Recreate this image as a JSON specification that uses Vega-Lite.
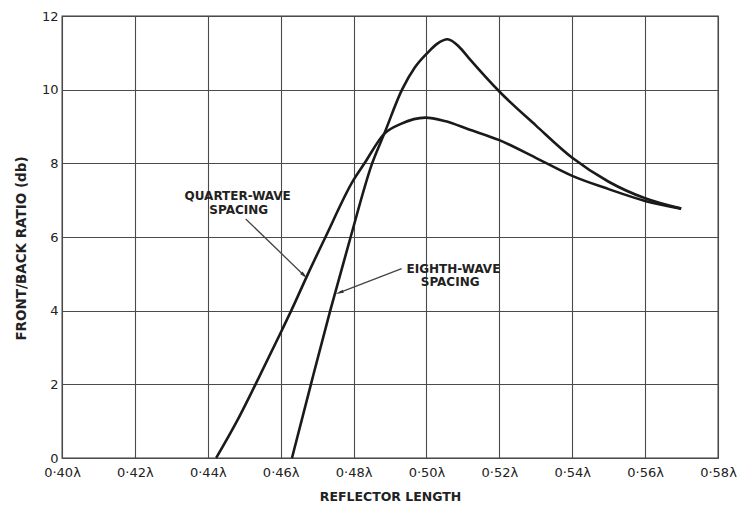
{
  "$schema": "https://vega.github.io/schema/vega-lite/v6.json",
  "width": 656,
  "height": 442,
  "autosize": "none",
  "padding": {"left": 62, "top": 16, "right": 20, "bottom": 57},
  "background": "white",
  "config": {
    "view": {"stroke": "#3a3a3a", "strokeWidth": 1.3},
    "font": "DejaVu Sans"
  },
  "datasets": {
    "curves": [
      {"series": "quarter", "x": 0.4423, "y": 0},
      {"series": "quarter", "x": 0.448, "y": 1.0},
      {"series": "quarter", "x": 0.4531, "y": 2},
      {"series": "quarter", "x": 0.46, "y": 3.4},
      {"series": "quarter", "x": 0.4629, "y": 4},
      {"series": "quarter", "x": 0.4675, "y": 5},
      {"series": "quarter", "x": 0.4723, "y": 6},
      {"series": "quarter", "x": 0.48, "y": 7.55},
      {"series": "quarter", "x": 0.483, "y": 8},
      {"series": "quarter", "x": 0.4884, "y": 8.8},
      {"series": "quarter", "x": 0.493, "y": 9.07},
      {"series": "quarter", "x": 0.4997, "y": 9.24},
      {"series": "quarter", "x": 0.505, "y": 9.15},
      {"series": "quarter", "x": 0.5117, "y": 8.92},
      {"series": "quarter", "x": 0.52, "y": 8.63},
      {"series": "quarter", "x": 0.53, "y": 8.15},
      {"series": "quarter", "x": 0.54, "y": 7.66},
      {"series": "quarter", "x": 0.55, "y": 7.3},
      {"series": "quarter", "x": 0.56, "y": 6.98},
      {"series": "quarter", "x": 0.5699, "y": 6.77},
      {"series": "eighth", "x": 0.4631, "y": 0},
      {"series": "eighth", "x": 0.4683, "y": 2},
      {"series": "eighth", "x": 0.4736, "y": 4},
      {"series": "eighth", "x": 0.4792, "y": 6},
      {"series": "eighth", "x": 0.4851, "y": 8},
      {"series": "eighth", "x": 0.4884, "y": 8.8},
      {"series": "eighth", "x": 0.4933, "y": 10},
      {"series": "eighth", "x": 0.4968, "y": 10.6},
      {"series": "eighth", "x": 0.5003, "y": 11.0},
      {"series": "eighth", "x": 0.503, "y": 11.25},
      {"series": "eighth", "x": 0.5058, "y": 11.37},
      {"series": "eighth", "x": 0.509, "y": 11.16},
      {"series": "eighth", "x": 0.5117, "y": 10.85},
      {"series": "eighth", "x": 0.52, "y": 9.95},
      {"series": "eighth", "x": 0.53, "y": 9.03},
      {"series": "eighth", "x": 0.54, "y": 8.15},
      {"series": "eighth", "x": 0.55, "y": 7.5},
      {"series": "eighth", "x": 0.56, "y": 7.05},
      {"series": "eighth", "x": 0.5699, "y": 6.77}
    ],
    "arrows": [
      {"series": "quarter", "x": 0.4504, "y": 6.49, "x2": 0.4665, "y2": 4.95},
      {"series": "eighth", "x": 0.4932, "y": 5.14, "x2": 0.4761, "y2": 4.49}
    ],
    "labels": [
      {"text": "QUARTER-WAVE", "x": 0.4482, "y": 7.11},
      {"text": "SPACING", "x": 0.4485, "y": 6.73},
      {"text": "EIGHTH-WAVE", "x": 0.5074, "y": 5.14},
      {"text": "SPACING", "x": 0.5065, "y": 4.78}
    ]
  },
  "layer": [
    {
      "data": {"name": "curves"},
      "mark": {"type": "line", "interpolate": "monotone", "color": "#1a1a1a", "strokeWidth": 2.6},
      "encoding": {
        "x": {
          "field": "x", "type": "quantitative",
          "scale": {"domain": [0.4, 0.58], "nice": false, "zero": false},
          "axis": {
            "values": [0.4, 0.42, 0.44, 0.46, 0.48, 0.5, 0.52, 0.54, 0.56, 0.58],
            "labelExpr": "replace(format(datum.value, '.2f'), '.', '·') + 'λ'",
            "grid": true, "gridColor": "#4a4a4a", "gridWidth": 1.1, "gridOpacity": 1,
            "domain": false, "ticks": false,
            "labelPadding": 8, "labelFontSize": 13, "labelColor": "#222",
            "labelFlush": false, "labelOverlap": false,
            "title": "REFLECTOR LENGTH", "titleFontSize": 12.5, "titleFontWeight": "bold",
            "titleColor": "#222", "titlePadding": 11
          }
        },
        "y": {
          "field": "y", "type": "quantitative",
          "scale": {"domain": [0, 12], "nice": false},
          "axis": {
            "values": [0, 2, 4, 6, 8, 10, 12],
            "grid": true, "gridColor": "#4a4a4a", "gridWidth": 1.1, "gridOpacity": 1,
            "domain": false, "ticks": false,
            "labelPadding": 4, "labelFontSize": 13, "labelColor": "#222",
            "labelFlush": false, "labelOverlap": false,
            "title": "FRONT/BACK RATIO (db)", "titleFontSize": 13.5, "titleFontWeight": "bold",
            "titleColor": "#222", "titlePadding": 13, "titleY": 232
          }
        },
        "detail": {"field": "series"}
      }
    },
    {
      "data": {"name": "arrows"},
      "mark": {"type": "rule", "color": "#444", "strokeWidth": 1.3},
      "encoding": {
        "x": {"field": "x", "type": "quantitative"},
        "y": {"field": "y", "type": "quantitative"},
        "x2": {"field": "x2"},
        "y2": {"field": "y2"}
      }
    },
    {
      "data": {"name": "arrows"},
      "transform": [{"filter": "datum.series === 'quarter'"}],
      "mark": {"type": "point", "shape": "M1,0L-1,-0.4L-1,0.4Z", "filled": true, "color": "#333", "size": 70, "angle": 44, "opacity": 1},
      "encoding": {
        "x": {"field": "x2", "type": "quantitative"},
        "y": {"field": "y2", "type": "quantitative"}
      }
    },
    {
      "data": {"name": "arrows"},
      "transform": [{"filter": "datum.series === 'eighth'"}],
      "mark": {"type": "point", "shape": "M1,0L-1,-0.4L-1,0.4Z", "filled": true, "color": "#333", "size": 70, "angle": 160.6, "opacity": 1},
      "encoding": {
        "x": {"field": "x2", "type": "quantitative"},
        "y": {"field": "y2", "type": "quantitative"}
      }
    },
    {
      "data": {"name": "labels"},
      "mark": {"type": "text", "font": "DejaVu Sans", "fontSize": 12, "fontWeight": "bold", "color": "#222", "align": "center", "baseline": "middle"},
      "encoding": {
        "x": {"field": "x", "type": "quantitative"},
        "y": {"field": "y", "type": "quantitative"},
        "text": {"field": "text"}
      }
    }
  ]
}
